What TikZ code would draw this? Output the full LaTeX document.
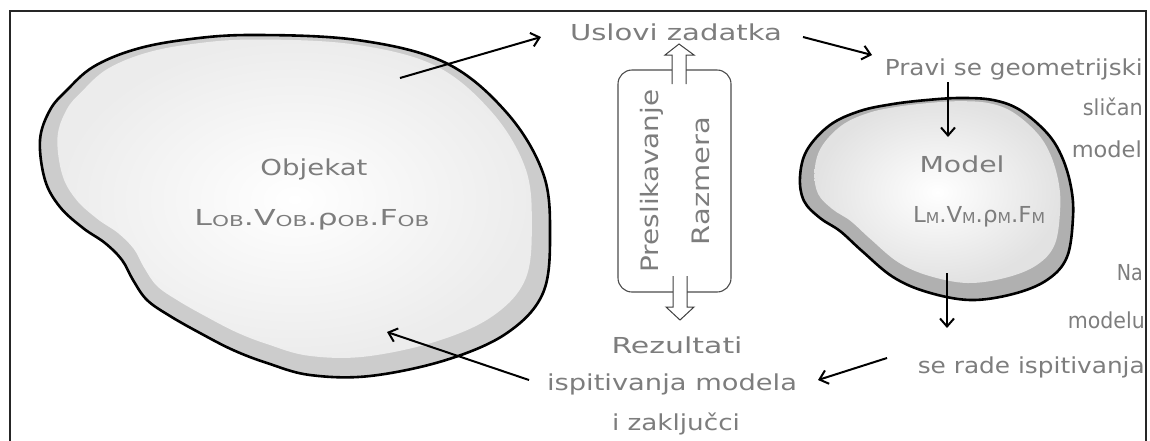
\documentclass[tikz,border=0pt]{standalone}
\usepackage{fontspec}
\setmainfont{DejaVu Sans}
\usepackage{graphicx}
\usetikzlibrary{arrows.meta}
\definecolor{txt}{RGB}{125,125,125}
\definecolor{ringA}{RGB}{204,204,204}
\definecolor{innerA}{RGB}{236,236,236}
\definecolor{ringB}{RGB}{176,176,176}
\definecolor{innerB}{RGB}{226,226,226}
\newcommand{\fw}[2]{\resizebox{#1pt}{\height}{#2}}
\newcommand{\sbs}[1]{\raisebox{-1.5pt}{\fontsize{15}{15}\selectfont #1}}
\tikzset{
  bigblob/.style={insert path={plot[smooth cycle, tension=0.6] coordinates {
    (40,140) (50,110) (67,90) (93,67) (133,50) (183,40) (250,35) (357,40)
    (446,63) (507,113) (543,173) (550,233) (543,293) (507,333) (446,360)
    (370,376) (310,375) (267,363) (233,350) (200,333) (170,316) (147,300)
    (133,280) (122,260) (105,243) (83,228) (60,207) (45,180)}}},
  smallblob/.style={insert path={plot[smooth cycle, tension=0.6] coordinates {
    (960,98) (993,100) (1020,110) (1047,133) (1062,157) (1071,187) (1073,217)
    (1067,257) (1047,280) (1013,294) (970,300) (927,292) (893,277) (862,251)
    (840,231) (820,218) (804,201) (800,177) (807,150) (830,125) (860,111)
    (893,104) (927,100)}}}
}
\begin{document}
\begin{tikzpicture}[x=1pt,y=-1pt,
  lbl/.style={text=txt, inner sep=0pt, font=\fontsize{22}{26}\selectfont},
  arr/.style={line width=2pt, -{Straight Barb[length=8pt,width=14pt,line width=2pt]}},
  outline/.style={line width=2.6pt, line join=round},
  hollow/.style={draw=black!75, line width=1pt, fill=white, line join=miter},
  framebox/.style={draw=black!85, line width=1.5pt}]
\useasboundingbox (0,0) rectangle (1150,440);
% frame
\draw[framebox] (10,445) -- (10,11) -- (1146,11) -- (1146,445);

% big blob
\fill[ringA, bigblob];
\shade[inner color=white, outer color=innerA, scale around={0.93:(290,100)}, bigblob];
\draw[outline, bigblob];

% small blob
\fill[ringB, smallblob];
\shade[inner color=white, outer color=innerB, scale around={0.9:(945,130)}, smallblob];
\draw[outline, smallblob];

% rounded rectangle
\node[draw=black!70, line width=1.1pt, rounded corners=14pt, minimum width=113pt,
      minimum height=222pt, inner sep=0pt] (rect) at (674.5,181) {};
\node[lbl, rotate=90, font=\fontsize{24}{28}\selectfont] (presl) at (652,181) {\fw{183}{Preslikavanje}};
\node[lbl, rotate=90, font=\fontsize{24}{28}\selectfont] (razm) at (701,181) {\fw{128}{Razmera}};

% hollow arrows
\filldraw[hollow] (672,84) -- (672,55) -- (665,55) -- (679,44) -- (694,55) -- (686,55) -- (686,84);
\filldraw[hollow] (673,276) -- (673,307) -- (666,307) -- (680,320) -- (694,307) -- (687,307) -- (687,276);

% texts
\node[lbl, anchor=base] (objekat) at (314,175) {\fw{107}{Objekat}};
\node[lbl, anchor=base] (lob) at (312,225) {\fw{235}{L\sbs{OB}.V\sbs{OB}.ρ\sbs{OB}.F\sbs{OB}}};
\node[lbl, anchor=base] (modeltxt) at (962,172) {\fw{85}{Model}};
\node[lbl, anchor=base] (lm) at (979,222) {\fw{132}{L\sbs{M}.V\sbs{M}.ρ\sbs{M}.F\sbs{M}}};

\node[lbl, anchor=base] (uslovi) at (676,40) {\fw{212}{Uslovi zadatka}};
\node[lbl, anchor=base east] (pravi) at (1143,75) {\fw{258}{Pravi se geometrijski}};
\node[lbl, anchor=base east] (slican) at (1143,115) {\fw{60}{sličan}};
\node[lbl, anchor=base east] (modelr) at (1142,157) {\fw{70}{model}};
\node[lbl, anchor=base east] (na) at (1143,280) {\fw{26}{Na}};
\node[lbl, anchor=base east] (modelu) at (1145,328) {\fw{77}{modelu}};
\node[lbl, anchor=base east] (serade) at (1145,373) {\fw{227}{se rade ispitivanja}};
\node[lbl, anchor=base] (rezultati) at (677,353) {\fw{131}{Rezultati}};
\node[lbl, anchor=base] (ispit) at (672,390) {\fw{250}{ispitivanja modela}};
\node[lbl, anchor=base] (zaklj) at (676,430) {\fw{128}{i zaključci}};

% arrows
\coordinate (a1s) at (400,78);  \coordinate (a1e) at (541,37);
\coordinate (a2s) at (803,37);  \coordinate (a2e) at (872,55);
\coordinate (a3s) at (948,82);  \coordinate (a3e) at (948,137);
\coordinate (a4s) at (947,273); \coordinate (a4e) at (947,328);
\coordinate (a5s) at (887,358); \coordinate (a5e) at (818,380);
\coordinate (a6s) at (529,380); \coordinate (a6e) at (387,332);
\draw[arr] (a1s) -- (a1e);
\draw[arr] (a2s) -- (a2e);
\draw[arr] (a3s) -- (a3e);
\draw[arr] (a4s) -- (a4e);
\draw[arr] (a5s) -- (a5e);
\draw[arr] (a6s) -- (a6e);
\end{tikzpicture}
\end{document}
